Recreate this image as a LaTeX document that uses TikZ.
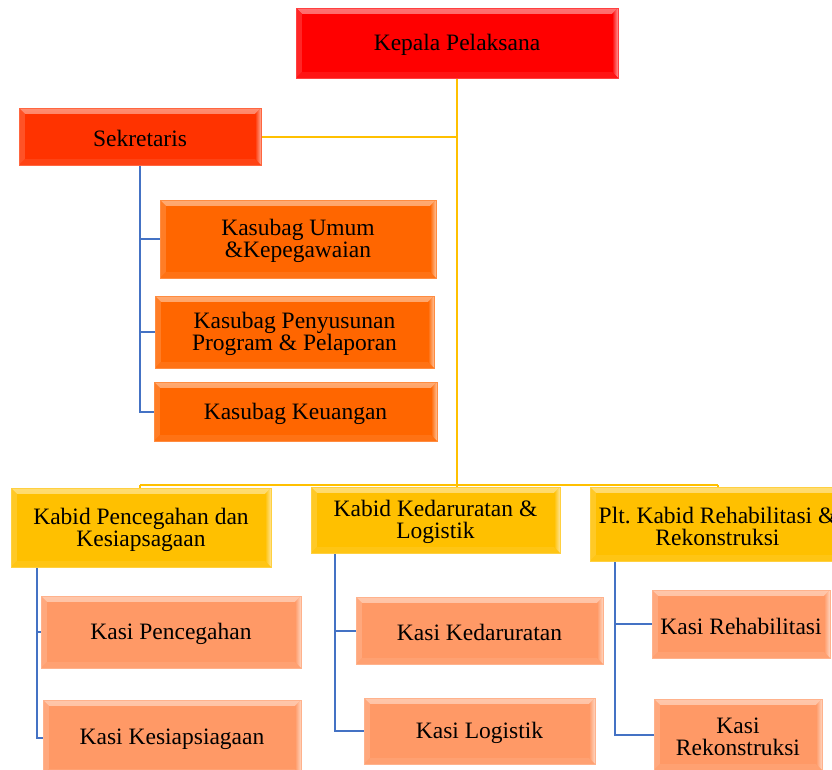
\documentclass[tikz,border=0pt]{standalone}
\usepackage{fontspec}
\setmainfont{Liberation Serif}
\usetikzlibrary{backgrounds}
\definecolor{cKep}{RGB}{255,0,0}
\definecolor{cSek}{RGB}{255,51,0}
\definecolor{cSub}{RGB}{255,102,0}
\definecolor{cBid}{RGB}{255,192,0}
\definecolor{cSi}{RGB}{255,153,102}
\definecolor{cYl}{RGB}{255,192,0}
\definecolor{cBl}{RGB}{68,114,196}
\tikzset{
  bevel/.style={
    fill=#1, draw=#1!75!white, line width=0.6pt,
    path picture={
      \shade[top color=#1!55!white, bottom color=#1]
        (path picture bounding box.north west) -- (path picture bounding box.north east)
        -- ([xshift=-6pt,yshift=-6pt]path picture bounding box.north east)
        -- ([xshift=6pt,yshift=-6pt]path picture bounding box.north west) -- cycle;
      \fill[#1!85!white]
        (path picture bounding box.north west) -- ([xshift=6pt,yshift=-6pt]path picture bounding box.north west)
        -- ([xshift=6pt,yshift=6pt]path picture bounding box.south west)
        -- (path picture bounding box.south west) -- cycle;
      \shade[left color=#1, right color=#1!40!white]
        (path picture bounding box.north east) -- ([xshift=-6pt,yshift=-6pt]path picture bounding box.north east)
        -- ([xshift=-6pt,yshift=6pt]path picture bounding box.south east)
        -- (path picture bounding box.south east) -- cycle;
      \fill[#1!92!white]
        (path picture bounding box.south west) -- ([xshift=6pt,yshift=6pt]path picture bounding box.south west)
        -- ([xshift=-6pt,yshift=6pt]path picture bounding box.south east)
        -- (path picture bounding box.south east) -- cycle;
      \fill[#1]
        ([xshift=6pt,yshift=-6pt]path picture bounding box.north west)
        rectangle ([xshift=-6pt,yshift=6pt]path picture bounding box.south east);
    }
  },
  boxtext/.style={text=black, align=center, inner sep=0pt,
    font=\fontsize{23.5}{22}\selectfont, yshift=-2pt},
  orgbox/.style n args={4}{bevel=#1, minimum width=#2, minimum height=#3,
    inner sep=0pt, label={[boxtext]center:{#4}}},
  yline/.style={draw=cYl, line width=2pt},
  bline/.style={draw=cBl, line width=2pt},
}
\begin{document}
\begin{tikzpicture}[x=1pt,y=-1pt]
  \useasboundingbox (0,0) rectangle (832,769);
  \clip (0,0) rectangle (832,769);

  % head and secretariat
  \node[orgbox={cKep}{322pt}{70pt}{Kepala Pelaksana}] (kep) at (457,43) {};
  \node[orgbox={cSek}{242pt}{57pt}{Sekretaris}] (sek) at (140,136.5) {};
  \node[orgbox={cSub}{276pt}{78pt}{Kasubag Umum\\\&Kepegawaian}] (sub1) at (298,239) {};
  \node[orgbox={cSub}{279pt}{72pt}{Kasubag Penyusunan\\Program \& Pelaporan}] (sub2) at (294.5,332) {};
  \node[orgbox={cSub}{283pt}{59pt}{Kasubag Keuangan}] (sub3) at (295.5,411.5) {};

  % division heads
  \node[orgbox={cBid}{260pt}{79pt}{Kabid Pencegahan dan\\Kesiapsagaan}] (kb1) at (141,527.5) {};
  \node[orgbox={cBid}{249pt}{66pt}{Kabid Kedaruratan \&\\Logistik}] (kb2) at (435.5,520) {};
  \node[orgbox={cBid}{255pt}{74pt}{Plt.\ Kabid Rehabilitasi \&\\Rekonstruksi}] (kb3) at (717.5,524) {};

  % sections
  \node[orgbox={cSi}{260pt}{72pt}{Kasi Pencegahan}] (si1) at (171,632) {};
  \node[orgbox={cSi}{258pt}{75pt}{Kasi Kesiapsiagaan}] (si2) at (172,737.5) {};
  \node[orgbox={cSi}{247pt}{67pt}{Kasi Kedaruratan}] (si3) at (479.5,630.5) {};
  \node[orgbox={cSi}{231pt}{66pt}{Kasi Logistik}] (si4) at (479.5,731) {};
  \node[orgbox={cSi}{178pt}{68pt}{Kasi Rehabilitasi}] (si5) at (741,624) {};
  \node[orgbox={cSi}{168pt}{71pt}{Kasi\\Rekonstruksi}] (si6) at (738,734.5) {};

  % bus feeding the three divisions
  \coordinate (busL) at (140,485);
  \coordinate (busM) at (457,485);
  \coordinate (busR) at (718,485);

  \begin{scope}[on background layer]
    \fill[white] (0,0) rectangle (832,769);
    % main spine and bus
    \draw[yline] (kep.south) -- (busM);
    \draw[yline] (sek.east) -- (sek.east -| kep.south);
    \draw[yline] (busL) -- (busR);
    \draw[yline] (busL) -- (busL |- kb1.center);
    \draw[yline] (busM) -- (busM |- kb2.center);
    \draw[yline] (busR) -- (busR |- kb3.center);
    % secretariat sub-units
    \draw[bline] (sek.south) |- (sub1.west);
    \draw[bline] (sek.south) |- (sub2.west);
    \draw[bline] (sek.south) |- (sub3.west);
    % sections under each division
    \draw[bline] ([xshift=26pt]kb1.south west) |- (si1.west);
    \draw[bline] ([xshift=26pt]kb1.south west) |- (si2.west);
    \draw[bline] ([xshift=24pt]kb2.south west) |- (si3.west);
    \draw[bline] ([xshift=24pt]kb2.south west) |- (si4.west);
    \draw[bline] ([xshift=25pt]kb3.south west) |- (si5.west);
    \draw[bline] ([xshift=25pt]kb3.south west) |- (si6.west);
  \end{scope}
\end{tikzpicture}
\end{document}
